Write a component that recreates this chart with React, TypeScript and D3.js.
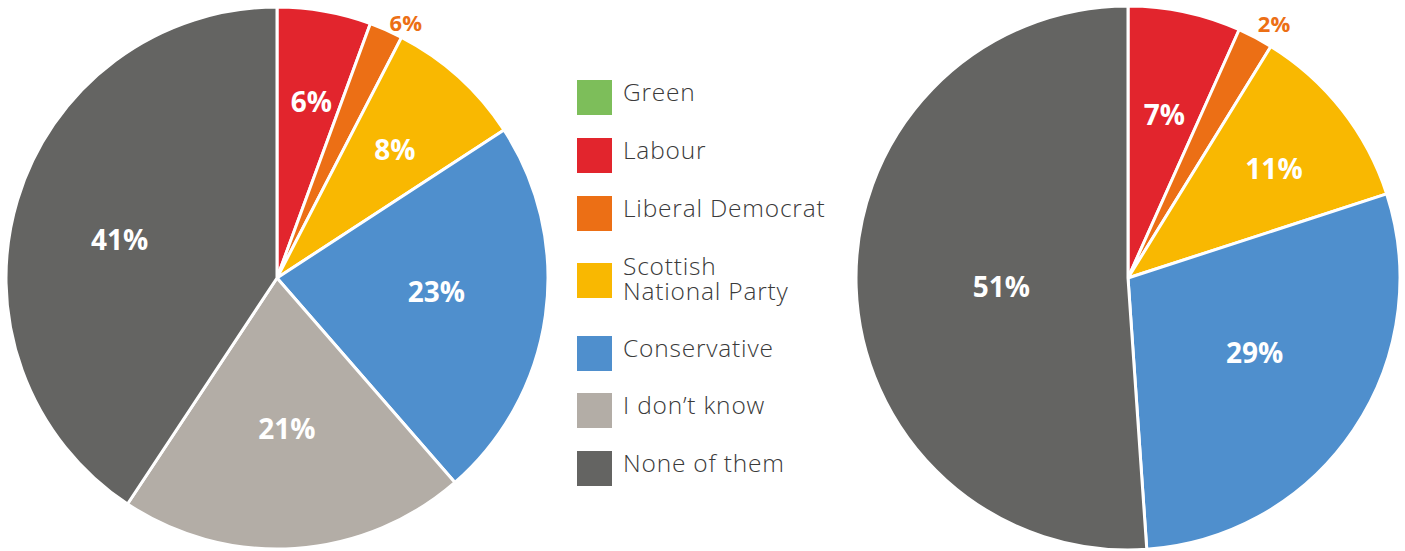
import React from "react";
import * as d3 from "d3";

const categories = ["Green", "Labour", "Liberal Democrat", "Scottish National Party", "Conservative", "I don't know", "None of them"];
const legendLabels = [["Green"], ["Labour"], ["Liberal Democrat"], ["Scottish", "National Party"], ["Conservative"], ["I don\u2019t know"], ["None of them"]];
const colors = ["#7dbe5a", "#e2252d", "#ec6f15", "#f9b801", "#4f8fcd", "#b3ada6", "#646462"];

const leftValues = [0, 5.6, 2.0, 8.2, 22.8, 20.7, 40.7];
const leftLabels = ["", "6%", "6%", "8%", "23%", "21%", "41%"];
const rightValues = [0, 6.7, 2.1, 11.2, 28.9, 0, 51.1];
const rightLabels = ["", "7%", "2%", "11%", "29%", "", "51%"];

// layout (not data): label radius and small angular nudge (degrees)
const leftLabelR = [0, 179, 286, 174, 160, 151, 162];
const leftLabelNudge = [0, 1, 3, 0.5, -3, 0, -3];
const rightLabelR = [0, 167, 293, 182, 147, 0, 127];
const rightLabelNudge = [0, 0.5, 2, 1.5, -3.5, 0, -2];

type PieProps = { cx: number; cy: number; r: number; values: number[]; labels: string[]; labelR: number[]; nudge: number[] };

function Pie({ cx, cy, r, values, labels, labelR, nudge }: PieProps) {
  const items = values.map((v, i) => ({ v, i }));
  const arcs = d3.pie<{ v: number; i: number }>().sort(null).value((d) => d.v)(items);
  const arc = d3.arc<any>().innerRadius(0).outerRadius(r);
  return (
    <g transform={`translate(${cx},${cy})`}>
      {arcs.filter((a) => a.data.v > 0).map((a) => (
        <path key={a.data.i} d={arc(a) || ""} fill={colors[a.data.i]} stroke="#fff" strokeWidth={3} strokeLinejoin="round" />
      ))}
      {arcs.filter((a) => a.data.v > 0 && labels[a.data.i]).map((a) => {
        const mid = (a.startAngle + a.endAngle) / 2 + (nudge[a.data.i] * Math.PI) / 180;
        const lr = labelR[a.data.i];
        const x = Math.sin(mid) * lr;
        const y = -Math.cos(mid) * lr;
        const outside = lr > r;
        return (
          <text key={"t" + a.data.i} x={x} y={y} dy="0.36em" textAnchor="middle"
            fontFamily="'Open Sans', sans-serif" fontWeight={700}
            fontSize={outside ? 22 : 28}
            fill={outside ? colors[2] : "#fff"}>
            {labels[a.data.i]}
          </text>
        );
      })}
    </g>
  );
}

export default function App() {
  const legendY = [80, 138, 196, 263, 336, 393, 451];
  return (
    <svg width={1405} height={551} style={{ position: "absolute", left: 0, top: 0 }}>
      <rect width={1405} height={551} fill="#fff" />
      <Pie cx={277} cy={278} r={271} values={leftValues} labels={leftLabels} labelR={leftLabelR} nudge={leftLabelNudge} />
      <Pie cx={1128} cy={278} r={272} values={rightValues} labels={rightLabels} labelR={rightLabelR} nudge={rightLabelNudge} />
      <g>
        {categories.map((c, i) => (
          <g key={c}>
            <rect x={577} y={legendY[i]} width={35} height={35} fill={colors[i]} />
            {legendLabels[i].map((l, j) => (
              <text key={j} x={623} y={legendY[i] + 21 - (legendLabels[i].length - 1) * 9 + j * 25}
                fontFamily="'Open Sans', sans-serif" fontWeight={300} fontSize={24.5}
                letterSpacing={0.8} fill="#3a3a3a">
                {l}
              </text>
            ))}
          </g>
        ))}
      </g>
    </svg>
  );
}
